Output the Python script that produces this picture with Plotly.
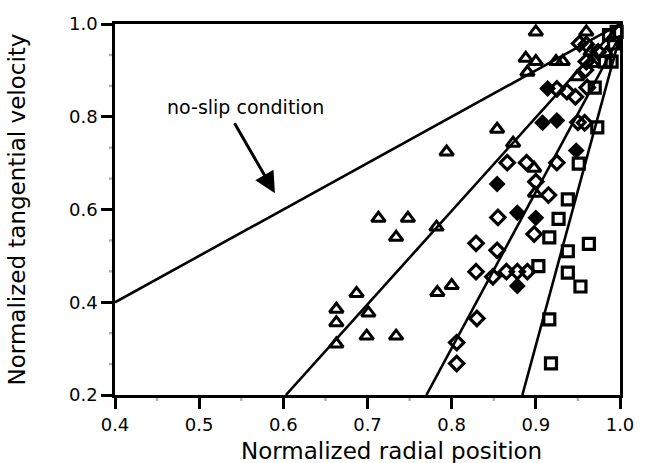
import plotly.graph_objects as go

# ---- data ----
tri_x = [0.794, 0.713, 0.748, 0.734, 0.782, 0.687, 0.663, 0.701, 0.663, 0.663, 0.699, 0.734,
         0.783, 0.800, 0.854, 0.873, 0.898, 0.899, 0.900, 0.971, 0.960, 0.888, 0.900, 0.924,
         0.932, 0.890, 0.965, 0.984, 0.967, 0.949]
tri_y = [0.724, 0.581, 0.581, 0.540, 0.562, 0.419, 0.385, 0.377, 0.356, 0.310, 0.327, 0.327,
         0.421, 0.436, 0.773, 0.743, 0.689, 0.635, 0.983, 1.003, 0.983, 0.926, 0.919, 0.919,
         0.919, 0.896, 0.940, 0.937, 0.915, 0.886]

dfill_x = [0.854, 0.900, 0.878, 0.908, 0.925, 0.948, 0.914, 0.878]
dfill_y = [0.655, 0.582, 0.435, 0.787, 0.792, 0.727, 0.861, 0.593]

dopen_x = [0.866, 0.889, 0.925, 0.900, 0.915, 0.855, 0.898, 0.829, 0.854, 0.829, 0.849, 0.865,
           0.878, 0.890, 0.830, 0.806, 0.806, 0.925, 0.937, 0.947, 0.961, 0.950, 0.958, 0.952,
           0.960, 0.974, 0.960, 0.959]
dopen_y = [0.701, 0.701, 0.701, 0.660, 0.631, 0.583, 0.547, 0.527, 0.512, 0.466, 0.455, 0.466,
           0.466, 0.466, 0.365, 0.313, 0.268, 0.860, 0.854, 0.843, 0.863, 0.788, 0.787, 0.958,
           0.956, 0.940, 0.919, 0.901]

sq_x = [0.996, 0.996, 0.987, 0.993, 0.982, 0.990, 0.970, 0.973, 0.951, 0.938, 0.927, 0.916,
        0.963, 0.938, 0.903, 0.938, 0.953, 0.916, 0.918]
sq_y = [1.003, 0.983, 0.976, 0.958, 0.919, 0.919, 0.863, 0.777, 0.699, 0.622, 0.580, 0.540,
        0.526, 0.510, 0.478, 0.464, 0.434, 0.363, 0.268]

# fitted lines: [x_start, x_end], [y_start, y_end]
noslip_x = [0.4, 1.0]
noslip_y = [0.4, 1.0]
line2_x = [0.603, 1.0]
line2_y = [0.2, 1.0]
line3_x = [0.770, 1.0]
line3_y = [0.2, 0.975]
line4_x = [0.884, 1.0]
line4_y = [0.2, 0.975]

x_range = [0.4, 1.0]
y_range = [0.2, 1.0]
x_major_step = 0.1
y_major_step = 0.2
x_minor_step = 0.05
y_minor_step = 0.2 / 3

FONT = "DejaVu Sans"

fig = go.Figure()
for lx, ly in [(noslip_x, noslip_y), (line2_x, line2_y), (line3_x, line3_y), (line4_x, line4_y)]:
    fig.add_trace(go.Scatter(x=lx, y=ly, mode="lines", line=dict(color="black", width=2.6),
                             showlegend=False, hoverinfo="skip"))

fig.add_trace(go.Scatter(x=tri_x, y=tri_y, mode="markers", cliponaxis=False, showlegend=False,
                         marker=dict(symbol="triangle-up-open", size=12, color="black",
                                     line=dict(color="black", width=3))))
fig.add_trace(go.Scatter(x=dopen_x, y=dopen_y, mode="markers", cliponaxis=False, showlegend=False,
                         marker=dict(symbol="diamond-open", size=11, color="black",
                                     line=dict(color="black", width=3.2))))
fig.add_trace(go.Scatter(x=dfill_x, y=dfill_y, mode="markers", cliponaxis=False, showlegend=False,
                         marker=dict(symbol="diamond", size=13, color="black",
                                     line=dict(color="black", width=0))))
fig.add_trace(go.Scatter(x=sq_x, y=sq_y, mode="markers", cliponaxis=False, showlegend=False,
                         marker=dict(symbol="square-open", size=11, color="black",
                                     line=dict(color="black", width=3.2))))

fig.add_annotation(x=0.590, y=0.635, ax=0.541, ay=0.789, xref="x", yref="y", axref="x", ayref="y",
                   text="", showarrow=True, arrowhead=2, arrowsize=1.4, arrowwidth=3,
                   arrowcolor="black")
fig.add_annotation(x=0.555, y=0.821, xref="x", yref="y", text="no-slip condition",
                   showarrow=False, font=dict(family=FONT, size=19, color="black"))
fig.add_annotation(x=0.547, y=0, xref="paper", yref="paper", yshift=-41, yanchor="top",
                   text="Normalized radial position", showarrow=False,
                   font=dict(family=FONT, size=23, color="black"))

# minor tick marks: short pixel-length shapes anchored on the axis lines
def tick_positions(lo, hi, step):
    n = int(round((hi - lo) / step))
    return [lo + i * step for i in range(n + 1)]


for xv in tick_positions(x_range[0], x_range[1], x_minor_step):
    fig.add_shape(type="line", xref="x", yref="paper", ysizemode="pixel", yanchor=0,
                  x0=xv, x1=xv, y0=0, y1=-6, layer="above",
                  line=dict(color="black", width=2.4))
for yv in tick_positions(y_range[0], y_range[1], y_minor_step):
    fig.add_shape(type="line", xref="paper", yref="y", xsizemode="pixel", xanchor=0,
                  y0=yv, y1=yv, x0=0, x1=-6, layer="above",
                  line=dict(color="black", width=2.4))

axis_common = dict(showline=True, linecolor="black", linewidth=2.6, mirror=True,
                   ticks="outside", tickcolor="#000000", tickwidth=3, ticklen=11,
                   showgrid=False, zeroline=False, tickformat=".1f",
                   tickfont=dict(family=FONT, size=18, color="black"))

fig.update_layout(
    template="simple_white",
    width=646, height=463, margin=dict(l=115, r=21, t=24, b=68),
    paper_bgcolor="white", plot_bgcolor="white",
    xaxis=dict(range=x_range, tickmode="linear", tick0=x_range[0], dtick=x_major_step,
               ticklabelstandoff=1, **axis_common),
    yaxis=dict(range=y_range, tickmode="linear", tick0=y_range[0], dtick=y_major_step,
               title=dict(text="Normalized tangential velocity", standoff=37,
                          font=dict(family=FONT, size=23, color="black")),
               **axis_common),
)

fig.write_html("out.html")
